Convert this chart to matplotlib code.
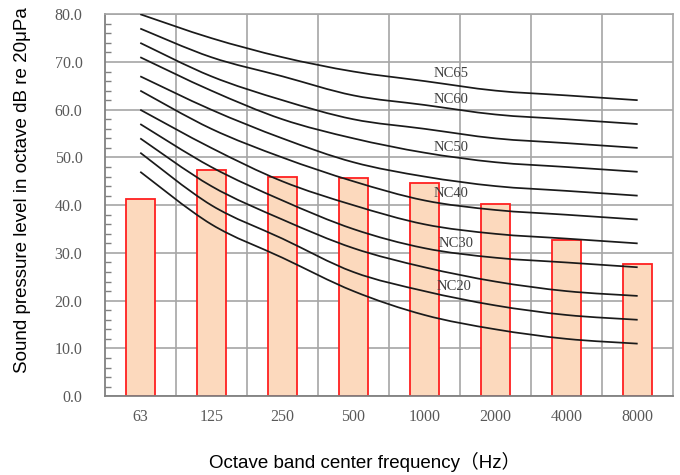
import matplotlib.pyplot as plt
import numpy as np
from matplotlib.path import Path
from matplotlib.patches import PathPatch
from matplotlib.ticker import MultipleLocator

# octave band centre frequencies (Hz)
bands = ["63", "125", "250", "500", "1000", "2000", "4000", "8000"]

# measured sound pressure levels
measured = [41.2, 47.3, 46.0, 45.8, 44.6, 40.3, 32.8, 27.6]

# NC curves, 63 Hz .. 8000 Hz
nc15 = [47, 36, 29, 22, 17, 14, 12, 11]
nc20 = [51, 40, 33, 26, 22, 19, 17, 16]
nc25 = [54, 44, 37, 31, 27, 24, 22, 21]
nc30 = [57, 48, 41, 35, 31, 29, 28, 27]
nc35 = [60, 52, 45, 40, 36, 34, 33, 32]
nc40 = [64, 56, 50, 45, 41, 39, 38, 37]
nc45 = [67, 60, 54, 49, 46, 44, 43, 42]
nc50 = [71, 64, 58, 54, 51, 49, 48, 47]
nc55 = [74, 67, 62, 58, 56, 54, 53, 52]
nc60 = [77, 71, 67, 63, 61, 59, 58, 57]
nc65 = [80, 75, 71, 68, 66, 64, 63, 62]
nc_curves = [nc15, nc20, nc25, nc30, nc35, nc40, nc45, nc50, nc55, nc60, nc65]

# curve labels: (text, x position in band index, level)
label_names = ["NC65", "NC60", "NC50", "NC40", "NC30", "NC20"]
label_x = [4.38, 4.38, 4.38, 4.38, 4.45, 4.42]
label_y = [67.6, 62.2, 52.1, 42.5, 32.0, 23.0]

GRID = "#a6a6a6"
TICK_TEXT = "#595959"
SANS = ["Liberation Sans", "Noto Sans CJK SC"]


def smooth_path(xs, ys) -> Path:
    # Catmull-Rom style bezier through the points, like a smoothed spreadsheet line
    pts = np.column_stack([xs, ys]).astype(float)
    padded = np.vstack([pts[0], pts, pts[-1]])
    verts = [pts[0]]
    codes = [Path.MOVETO]
    for i in range(len(pts) - 1):
        p0, p1, p2, p3 = padded[i], padded[i + 1], padded[i + 2], padded[i + 3]
        verts += [p1 + (p2 - p0) / 6, p2 - (p3 - p1) / 6, p2]
        codes += [Path.CURVE4] * 3
    return Path(verts, codes)


fig = plt.figure(figsize=(6.8, 4.75), dpi=100)
ax = fig.add_axes([0.154, 0.166, 0.836, 0.804])

x = np.arange(len(bands))
ax.bar(x, measured, width=0.41, color="#fcd9bd", edgecolor="#ff2020", linewidth=1.3, zorder=2)

for curve in nc_curves:
    ax.add_patch(PathPatch(smooth_path(x, curve), facecolor="none", edgecolor="#1a1a1a",
                           linewidth=1.25, zorder=3, transform=ax.transData))

for name, lx, ly in zip(label_names, label_x, label_y):
    ax.text(lx, ly, name, ha="center", va="center", fontsize=10.5, family="Liberation Serif",
            color="#404040", zorder=4)

ax.set_xlim(-0.5, len(bands) - 0.5)
ax.set_ylim(0, 80)
ax.set_xticks(x, bands)
ax.set_xticks(np.arange(len(bands) - 1) + 0.5, minor=True)
ax.yaxis.set_major_locator(MultipleLocator(10))
ax.yaxis.set_minor_locator(MultipleLocator(2))
ax.set_yticklabels([f"{v:.1f}" for v in ax.get_yticks()])

ax.grid(True, which="major", axis="y", color=GRID, linewidth=1.2, zorder=1)
ax.grid(True, which="minor", axis="x", color=GRID, linewidth=1.2, zorder=1)
ax.set_axisbelow(True)

ax.tick_params(axis="x", which="both", length=0, pad=9, labelsize=11.5, labelcolor=TICK_TEXT)
ax.tick_params(axis="y", which="major", direction="in", length=0, pad=16, labelsize=11.5,
               labelcolor=TICK_TEXT)
ax.tick_params(axis="y", which="minor", direction="in", length=4, width=1, color="#808080")
for lab in ax.get_xticklabels() + ax.get_yticklabels():
    lab.set_family("Liberation Serif")

for side in ["top", "right"]:
    ax.spines[side].set_color(GRID)
    ax.spines[side].set_linewidth(1.2)
for side in ["left", "bottom"]:
    ax.spines[side].set_color("#808080")
    ax.spines[side].set_linewidth(1.3)

ax.set_xlabel("Octave band center frequency（Hz）", fontsize=13.5, family=SANS)
ax.set_ylabel("Sound pressure level in octave dB re 20μPa", fontsize=13.5, family=SANS)
ax.xaxis.set_label_coords(0.458, -0.145)
ax.yaxis.set_label_coords(-0.13, 0.54)

fig.savefig("out.png", dpi=100)
